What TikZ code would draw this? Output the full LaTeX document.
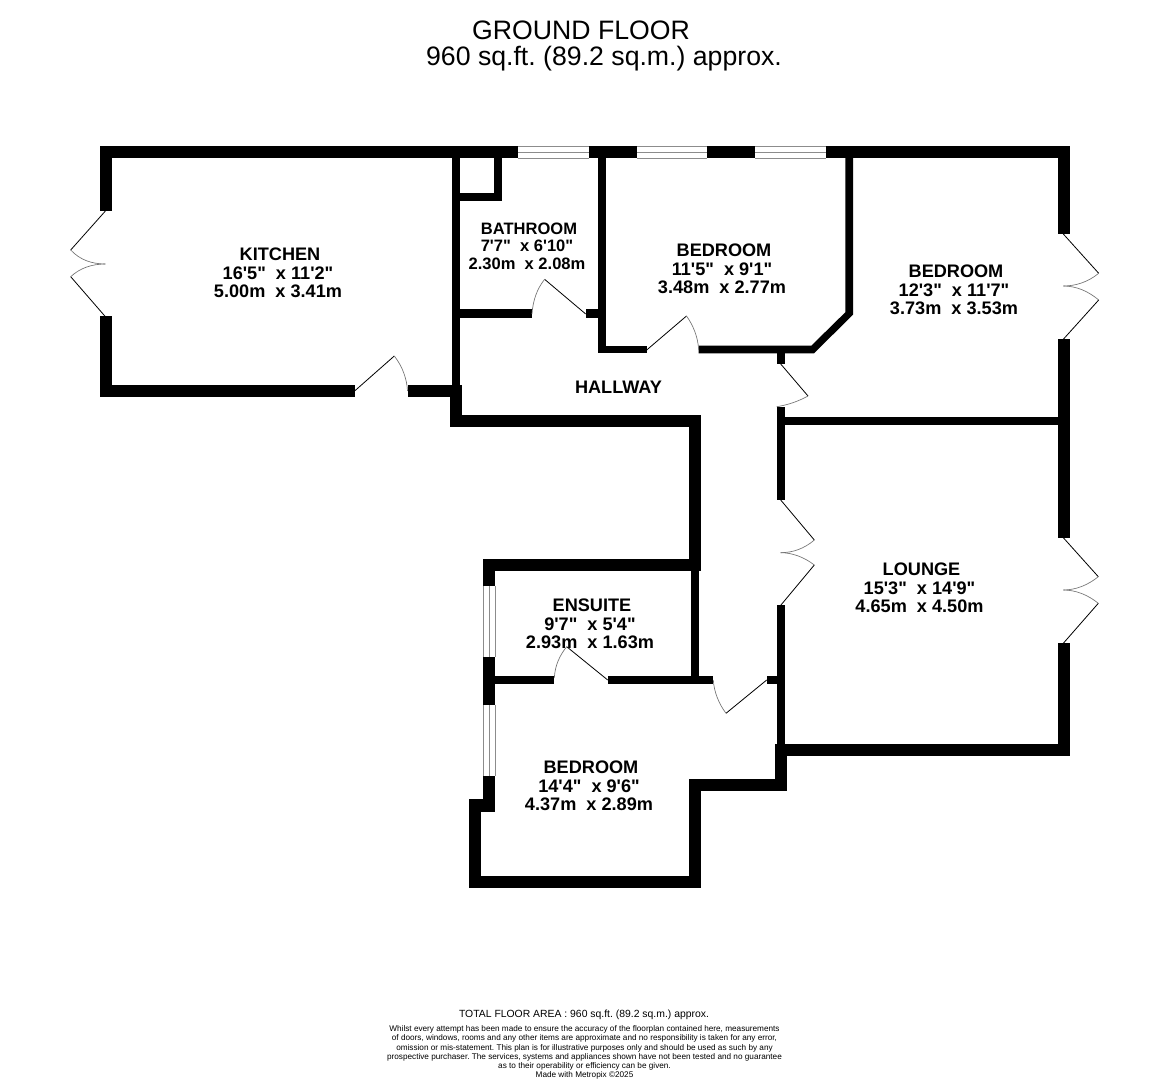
\documentclass[tikz,border=0pt]{standalone}
\usepackage{fontspec}
\newfontfamily\planfont{Liberation Sans}
\newcommand{\roomname}[1]{\hspace*{3pt}#1}
\frenchspacing

\tikzset{
  wall/.style = {fill = black},
  leaf/.style = {draw = black, line width = .6pt},
  swing/.style = {draw = black!55, line width = .5pt},
  glass/.style = {draw = black!45, line width = .6pt},
  room/.style = {align = center, inner sep = 0pt,
    font = \planfont\bfseries\fontsize{13.6}{13.9}\selectfont},
  smallroom/.style = {room,
    font = \planfont\bfseries\fontsize{12.4}{13.1}\selectfont},
  title/.style = {inner sep = 0pt,
    font = \planfont\fontsize{20}{20}\selectfont},
  smallprint/.style = {align = center, inner sep = 0pt,
    font = \planfont\fontsize{6.15}{6.85}\selectfont}
}

\begin{document}
\begin{tikzpicture}[x = .75pt, y = -.75pt]
  \useasboundingbox (0, 0) rectangle (1168, 1080);

  \node[title] (head1) at (581, 30) {GROUND FLOOR};
  \node[title] (head2) at (604, 58.5) {960 sq.ft. (89.2 sq.m.) approx.};

  % north and kitchen walls
  \fill[wall] (100, 146) rectangle (518, 158);
  \fill[wall] (589, 146) rectangle (637, 158);
  \fill[wall] (707, 146) rectangle (755, 158);
  \fill[wall] (826, 146) rectangle (1069.7, 158);
  \fill[wall] (100, 146) rectangle (112, 211);
  \fill[wall] (100, 316.5) rectangle (112, 397);
  \fill[wall] (100, 385) rectangle (354.6, 397);
  \fill[wall] (407.5, 385) rectangle (462, 397);
  \fill[wall] (452, 146) rectangle (460, 385);
  \fill[wall] (450, 385) rectangle (462, 427.3);

  % bathroom
  \fill[wall] (460, 192.7) rectangle (502, 201);
  \fill[wall] (494.3, 158) rectangle (502, 201);
  \fill[wall] (460, 309.3) rectangle (532, 317.7);
  \fill[wall] (585.7, 309.3) rectangle (598, 317.7);

  % bedroom with the cut corner
  \fill[wall] (598, 158) rectangle (606.4, 353.3);
  \fill[wall] (598, 345.7) rectangle (646.7, 353.3);
  \fill[wall] (698.7, 345.7) -- (811.3, 345.7) -- (845.3, 312.3) -- (845.3, 158)
  -- (853, 158) -- (853, 314.7) -- (814, 353.3) -- (698.7, 353.3) -- cycle;
  \fill[wall] (776.7, 353.3) rectangle (784.7, 364);

  % hallway and lounge
  \fill[wall] (450, 415.3) rectangle (700.7, 427.3);
  \fill[wall] (689, 415.3) rectangle (700.7, 571.3);
  \fill[wall] (776.7, 406.7) rectangle (784.7, 500);
  \fill[wall] (784.7, 417.3) rectangle (1057.7, 425.3);
  \fill[wall] (1057.7, 146) rectangle (1069.7, 234);
  \fill[wall] (1057.7, 339.3) rectangle (1069.7, 537.7);
  \fill[wall] (1057.7, 643.3) rectangle (1069.7, 756.3);
  \fill[wall] (776.7, 605.3) rectangle (784.7, 745);
  \fill[wall] (766.7, 675.7) rectangle (776.7, 684);
  \fill[wall] (774.7, 744.3) rectangle (1069.7, 756.3);

  % ensuite and south bedroom
  \fill[wall] (483.3, 559.3) rectangle (700.7, 571.3);
  \fill[wall] (691.3, 571.3) rectangle (699, 683.7);
  \fill[wall] (483.3, 559.3) rectangle (495.3, 586);
  \fill[wall] (483.3, 656.7) rectangle (495.3, 705);
  \fill[wall] (495.3, 675.7) rectangle (554.3, 683.7);
  \fill[wall] (607.7, 675.7) rectangle (713.3, 683.7);
  \fill[wall] (483.3, 775.7) rectangle (495.3, 811.7);
  \fill[wall] (468.7, 799.3) rectangle (483.3, 811.7);
  \fill[wall] (468.7, 799.3) rectangle (480.7, 888.3);
  \fill[wall] (468.7, 875.7) rectangle (700.7, 888.3);
  \fill[wall] (688.7, 778.7) rectangle (700.7, 888.3);
  \fill[wall] (688.7, 778.7) rectangle (786.7, 790.7);
  \fill[wall] (774.7, 744.3) rectangle (786.7, 790.7);

  % windows
  \foreach \xa/\xb in {518/589, 637/707, 755/826} {
    \foreach \yc in {146.5, 152.2, 158} {
      \draw[glass] (\xa, \yc) -- (\xb, \yc);
    }
  }
  \foreach \ya/\yb in {586/656.7, 705/775.7} {
    \foreach \xc in {483.6, 489.4, 495.2} {
      \draw[glass] (\xc, \ya) -- (\xc, \yb);
    }
  }

  % single doors
  \draw[leaf] (354.6, 391) -- (394.3, 356);
  \draw[swing] (394.3, 356) .. controls (403, 367) and (407, 380) .. (407.5, 391);
  \draw[leaf] (585.7, 314) -- (544.6, 279.3);
  \draw[swing] (544.6, 279.3) .. controls (537, 289) and (533, 300) .. (532, 314);
  \draw[leaf] (646.7, 350) -- (686.5, 316);
  \draw[swing] (686.5, 316) .. controls (693, 325) and (698, 337) .. (698.7, 350);
  \draw[leaf] (780.7, 364) -- (808, 396);
  \draw[swing] (808, 396) .. controls (799, 401) and (788, 405) .. (776.7, 406.7);
  \draw[leaf] (607.7, 680) -- (566.7, 646.7);
  \draw[swing] (566.7, 646.7) .. controls (560, 655) and (555, 665) .. (554.3, 678);
  \draw[leaf] (766.7, 680) -- (726, 713.3);
  \draw[swing] (726, 713.3) .. controls (719, 704) and (714, 692) .. (713.3, 680);

  % french doors
  \draw[leaf] (105.4, 211) -- (70.7, 250);
  \draw[leaf] (105.4, 316.7) -- (70.7, 276.7);
  \draw[swing] (70.7, 250) .. controls (80, 260) and (92, 264) .. (105.4, 264);
  \draw[swing] (70.7, 276.7) .. controls (80, 268) and (92, 264) .. (105.4, 264);
  \draw[leaf] (1063.3, 234) -- (1098.7, 273.3);
  \draw[leaf] (1063.3, 339.3) -- (1098.7, 300);
  \draw[swing] (1098.7, 273.3) .. controls (1088, 282) and (1076, 286) .. (1063.3, 286);
  \draw[swing] (1098.7, 300) .. controls (1088, 291) and (1076, 286) .. (1063.3, 286);
  \draw[leaf] (780.7, 500) -- (814.3, 540);
  \draw[leaf] (780.7, 605.3) -- (814.3, 565);
  \draw[swing] (814.3, 540) .. controls (804, 549) and (792, 552.7) .. (780.7, 552.7);
  \draw[swing] (814.3, 565) .. controls (804, 557) and (792, 552.7) .. (780.7, 552.7);
  \draw[leaf] (1063.3, 537.7) -- (1098.3, 576.7);
  \draw[leaf] (1063.3, 643.3) -- (1098.3, 603.3);
  \draw[swing] (1098.3, 576.7) .. controls (1088, 585) and (1076, 590) .. (1063.3, 590);
  \draw[swing] (1098.3, 603.3) .. controls (1088, 595) and (1076, 590) .. (1063.3, 590);

  \node[room] (kitchen) at (278, 273) {\roomname{KITCHEN}\\16'5"~ x 11'2"\\5.00m~ x 3.41m};
  \node[smallroom] (bathroom) at (527, 246) {\roomname{BATHROOM}\\7'7"~ x 6'10"\\2.30m~ x 2.08m};
  \node[room] (bedrooma) at (722, 269) {\roomname{BEDROOM}\\11'5"~ x 9'1"\\3.48m~ x 2.77m};
  \node[room] (bedroomb) at (954, 290) {\roomname{BEDROOM}\\12'3"~ x 11'7"\\3.73m~ x 3.53m};
  \node[room] (hallway) at (618.5, 387) {HALLWAY};
  \node[room] (lounge) at (919.5, 588) {\roomname{LOUNGE}\\15'3"~ x 14'9"\\4.65m~ x 4.50m};
  \node[room] (ensuite) at (590, 624) {\roomname{ENSUITE}\\9'7"~ x 5'4"\\2.93m~ x 1.63m};
  \node[room] (bedroomc) at (589, 786) {\roomname{BEDROOM}\\14'4"~ x 9'6"\\4.37m~ x 2.89m};

  \node[inner sep = 0pt, font = \planfont\fontsize{7.8}{9}\selectfont] (total) at (584, 1015)
  {TOTAL FLOOR AREA : 960 sq.ft. (89.2 sq.m.) approx.};
  \node[smallprint] (notice) at (584.5, 1052.5) {Whilst every attempt has been made to ensure the accuracy of the floorplan contained here, measurements\\
    of doors, windows, rooms and any other items are approximate and no responsibility is taken for any error,\\
    omission or mis-statement. This plan is for illustrative purposes only and should be used as such by any\\
    prospective purchaser. The services, systems and appliances shown have not been tested and no guarantee\\
    as to their operability or efficiency can be given.\\
    Made with Metropix ©2025};
\end{tikzpicture}
\end{document}
